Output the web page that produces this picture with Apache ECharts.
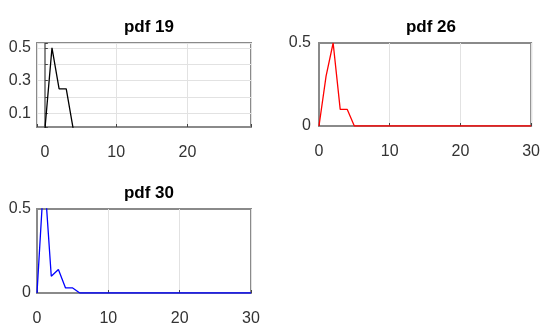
<!DOCTYPE html>
<html>
<head>
<meta charset="utf-8">
<script src="https://cdn.jsdelivr.net/npm/echarts@6/dist/echarts.min.js"></script>
<style>
html,body{margin:0;padding:0;background:#fff;}
#chart{width:543px;height:331px;}
</style>
</head>
<body>
<div id="chart"></div>
<script>
// ---- data ----
var titles = ['pdf 19', 'pdf 26', 'pdf 30'];
var x19 = [0, 1, 2, 3, 4];
var y19 = [0, 0.5, 0.25, 0.25, 0];
var x26 = [0,1,2,3,4,5,6,7,8,9,10,11,12,13,14,15,16,17,18,19,20,21,22,23,24,25,26,27,28,29,30];
var y26 = [0,0.3,0.5,0.1,0.1,0,0,0,0,0,0,0,0,0,0,0,0,0,0,0,0,0,0,0,0,0,0,0,0,0,0];
var x30 = [0,1,2,3,4,5,6,7,8,9,10,11,12,13,14,15,16,17,18,19,20,21,22,23,24,25,26,27,28,29,30];
var y30 = [0,0.72,0.1,0.14,0.03,0.03,0,0,0,0,0,0,0,0,0,0,0,0,0,0,0,0,0,0,0,0,0,0,0,0,0];
var xTickLabels = [0, 10, 20, 30];
var yTickLabels19 = [0.1, 0.3, 0.5];
var yTickLabels = [0, 0.5];
var colors = ['#000000', '#ff0000', '#0000ff'];

function pairs(xs, ys){ return xs.map(function(x,i){ return [x, ys[i]]; }); }

var FONT = 'Liberation Sans Narrow, Liberation Sans, Arial, sans-serif';
var boxColor = '#8a8a8a';
var gridColor = '#e2e2e2';
var LABEL_SIZE = 16;

var grids = [
  {left: 37, top: 43, width: 214, height: 84},
  {left: 319, top: 43, width: 214, height: 83},
  {left: 37, top: 209, width: 214, height: 84}
];

function xAxisFor(i, min, max, interval){
  var ax = {
    type: 'value', gridIndex: i, min: min, max: max, splitNumber: 3,
    axisLine: {show: true, lineStyle: {color: boxColor, width: 2}},
    axisTick: {show: true, inside: true, length: 3, lineStyle: {color: '#444', width: 1}},
    splitLine: {show: true, lineStyle: {color: gridColor, width: 1}},
    axisLabel: {
      show: true, margin: 18, color: '#333', fontFamily: FONT, fontSize: LABEL_SIZE,
      showMinLabel: true, showMaxLabel: true,
      formatter: function(v){ return xTickLabels.indexOf(Math.round(v*1000)/1000) >= 0 ? String(v) : ''; }
    }
  };
  if (interval) ax.interval = interval;
  return ax;
}

var option = {
  animation: false,
  backgroundColor: '#fff',
  title: grids.map(function(g, i){
    return {
      text: titles[i], left: g.left + g.width/2, top: g.top - 29, textAlign: 'center',
      textStyle: {fontFamily: FONT, fontSize: 17, fontWeight: 'bold', color: '#000', lineHeight: 17}
    };
  }),
  grid: grids.map(function(g){
    return {left: g.left, top: g.top, width: g.width, height: g.height,
            show: true, borderColor: boxColor, borderWidth: 2, backgroundColor: '#fff'};
  }),
  xAxis: [
    xAxisFor(0, -1.1, 28.9, null),
    xAxisFor(1, 0, 30, 10),
    xAxisFor(2, 0, 30, 10)
  ],
  yAxis: [
    {
      type: 'value', gridIndex: 0, min: 0.018, max: 0.53, splitNumber: 5,
      axisLine: {show: true, lineStyle: {color: boxColor, width: 2}},
      axisTick: {show: true, inside: true, length: 3, lineStyle: {color: '#444'}},
      splitLine: {show: true, lineStyle: {color: gridColor, width: 1}},
      axisLabel: {
        margin: 6, color: '#333', fontFamily: FONT, fontSize: LABEL_SIZE,
        formatter: function(v){ var r = Math.round(v*100)/100; return yTickLabels19.indexOf(r) >= 0 ? String(r) : ''; }
      }
    },
    {
      type: 'value', gridIndex: 1, min: 0, max: 0.5, interval: 0.5,
      axisLine: {show: true, lineStyle: {color: boxColor, width: 2}},
      axisTick: {show: false},
      splitLine: {show: false},
      axisLabel: {margin: 8, color: '#333', fontFamily: FONT, fontSize: LABEL_SIZE,
        formatter: function(v){ return yTickLabels.indexOf(v) >= 0 ? String(v) : ''; }}
    },
    {
      type: 'value', gridIndex: 2, min: 0, max: 0.5, interval: 0.5,
      axisLine: {show: true, lineStyle: {color: boxColor, width: 2}},
      axisTick: {show: false},
      splitLine: {show: false},
      axisLabel: {margin: 6, color: '#333', fontFamily: FONT, fontSize: LABEL_SIZE,
        formatter: function(v){ return yTickLabels.indexOf(v) >= 0 ? String(v) : ''; }}
    }
  ],
  series: [
    {type: 'line', xAxisIndex: 0, yAxisIndex: 0, data: pairs(x19, y19), showSymbol: false, clip: true,
     lineStyle: {color: colors[0], width: 1.3}, z: 5},
    {type: 'line', xAxisIndex: 1, yAxisIndex: 1, data: pairs(x26, y26), showSymbol: false, clip: true,
     lineStyle: {color: colors[1], width: 1.3}, z: 5},
    {type: 'line', xAxisIndex: 2, yAxisIndex: 2, data: pairs(x30, y30), showSymbol: false, clip: true,
     lineStyle: {color: colors[2], width: 1.3}, z: 5}
  ]
};

var chart = echarts.init(document.getElementById('chart'), null, {renderer: 'canvas'});
chart.setOption(option);
</script>
</body>
</html>
